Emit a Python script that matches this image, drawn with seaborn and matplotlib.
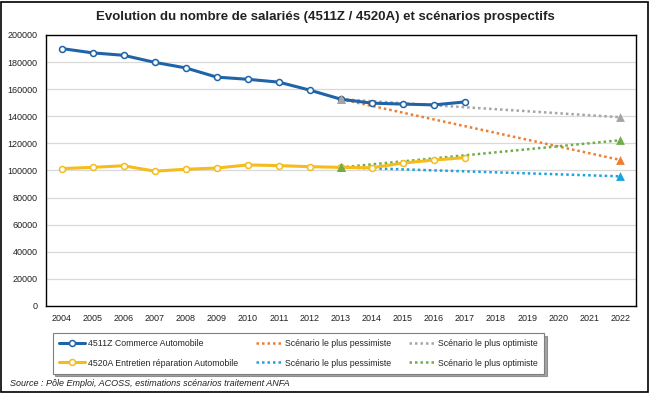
import matplotlib
matplotlib.use("Agg")
import matplotlib.pyplot as plt
import seaborn as sns
from matplotlib.patches import Rectangle

years = list(range(2004, 2023))
hist_years = list(range(2004, 2018))
scen_years = [2013, 2022]

commerce = [190000, 186800, 185000, 179800, 175700, 168900, 167300, 165200,
            159300, 152600, 149700, 149000, 148400, 150600]
entretien = [101400, 102300, 103500, 99500, 100900, 101800, 104100, 103600,
             102800, 102300, 102000, 105500, 107700, 109500]

commerce_pess = [152600, 107800]
commerce_opti = [152600, 139300]
entretien_pess = [102300, 95700]
entretien_opti = [102300, 122300]

sns.set_theme(style="white")
plt.rcParams['font.family'] = ['Liberation Sans', 'DejaVu Sans']

fig = plt.figure(figsize=(6.5, 3.93), dpi=100)
ax = fig.add_axes([0.0708, 0.2214, 0.9072, 0.6896])

# scenarios first so history lines sit on top
sns.lineplot(x=scen_years, y=commerce_pess, ax=ax, color="#ED7D31", lw=1.8,
             linestyle=(0, (1, 1.2)), label="Scénario le plus pessimiste")
sns.lineplot(x=scen_years, y=entretien_pess, ax=ax, color="#1AA3DD", lw=1.8,
             linestyle=(0, (1, 1.2)), label="Scénario le plus pessimiste")
sns.lineplot(x=scen_years, y=commerce_opti, ax=ax, color="#A5A5A5", lw=1.8,
             linestyle=(0, (1, 1.2)), label="Scénario le plus optimiste")
sns.lineplot(x=scen_years, y=entretien_opti, ax=ax, color="#70AD47", lw=1.8,
             linestyle=(0, (1, 1.2)), label="Scénario le plus optimiste")

sns.lineplot(x=hist_years, y=commerce, ax=ax, color="#1F63A8", lw=2.2,
             marker="o", markersize=4.3, markerfacecolor="white",
             markeredgecolor="#1F63A8", markeredgewidth=1.1,
             label="4511Z Commerce Automobile")
sns.lineplot(x=hist_years, y=entretien, ax=ax, color="#F5BC1C", lw=2.2,
             marker="o", markersize=4.3, markerfacecolor="white",
             markeredgecolor="#F5BC1C", markeredgewidth=1.1,
             label="4520A Entretien réparation Automobile")

# end triangles of scenarios
for vals, col in [(entretien_pess, "#1AA3DD"), (commerce_pess, "#ED7D31"),
                  (entretien_opti, "#70AD47"), (commerce_opti, "#A5A5A5")]:
    sns.scatterplot(x=scen_years, y=vals, ax=ax, color=col, marker="^",
                    s=40, edgecolor=col, linewidth=0, legend=False, zorder=5)

ax.set_xlim(2003.5, 2022.5)
ax.set_ylim(0, 200000)
ax.set_xticks(years)
ax.set_yticks(range(0, 200001, 20000))
ax.tick_params(axis="both", labelsize=6.5, length=0, pad=6, colors="#222222")
ax.yaxis.grid(True, color="#D9D9D9", lw=0.9)
ax.set_axisbelow(True)
for s in ax.spines.values():
    s.set_color("black")
    s.set_linewidth(1.0)

fig.text(0.5, 0.957, "Evolution du nombre de salariés (4511Z / 4520A) et scénarios prospectifs",
         ha="center", va="center", fontsize=9.5, fontweight="bold", color="#222222")

h, l = ax.get_legend_handles_labels()
order = [4, 5, 0, 1, 2, 3]
leg = fig.legend([h[i] for i in order], [l[i] for i in order], ncol=3,
                 loc="center", bbox_to_anchor=(0.459, 0.101), fontsize=6.3,
                 frameon=True, fancybox=False, shadow=True, edgecolor="#7F7F7F",
                 handlelength=3.0, columnspacing=2.1, labelspacing=1.2,
                 borderpad=0.7, handletextpad=0.3, borderaxespad=0)
leg.get_frame().set_linewidth(0.8)
if ax.get_legend():
    ax.get_legend().remove()

fig.text(0.015, 0.024, "Source : Pôle Emploi, ACOSS, estimations scénarios traitement ANFA",
         ha="left", va="center", fontsize=6.5, style="italic", color="#222222")

fig.patches.append(Rectangle((0.002, 0.003), 0.995, 0.993, transform=fig.transFigure,
                             fill=False, edgecolor="black", lw=1.2))

fig.savefig("out.png", dpi=100)
